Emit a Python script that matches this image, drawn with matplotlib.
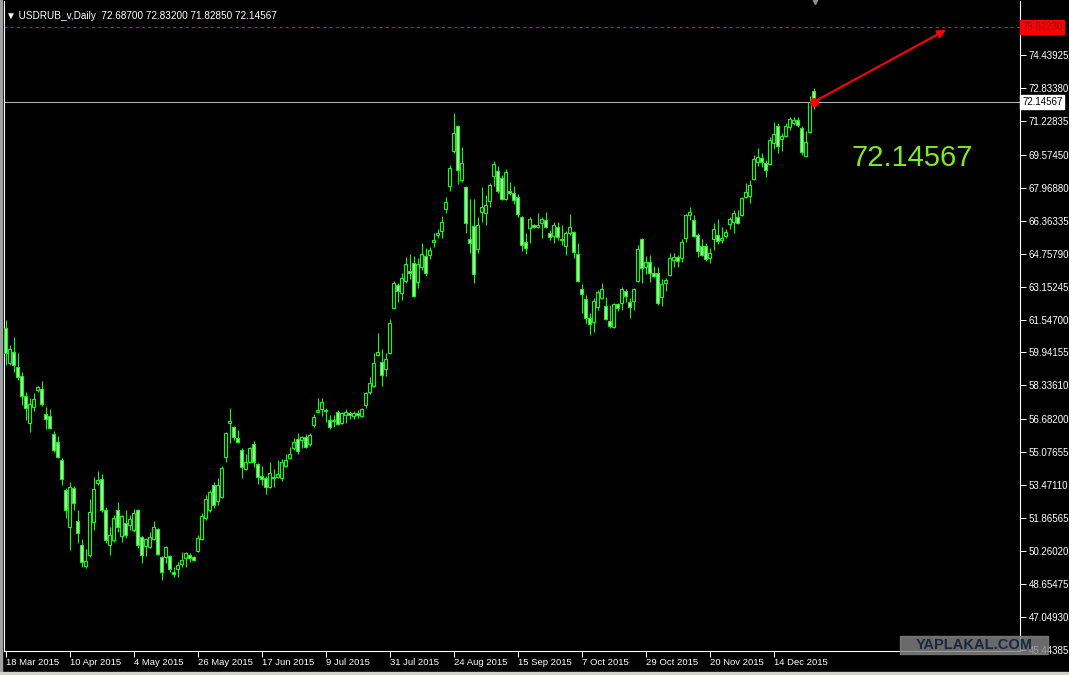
import matplotlib
matplotlib.use("Agg")
import matplotlib.pyplot as plt
from matplotlib.patches import Rectangle
import numpy as np

plt.rcParams['font.family'] = ['Liberation Sans', 'DejaVu Sans']

title = "\u25bc USDRUB_v,Daily  72.68700 72.83200 71.82850 72.14567"

# daily bars, 18 Mar 2015 .. end of Dec 2015
opens = [
    61.14, 59.43, 59.96, 59.24, 58.80, 57.82, 56.50, 57.29, 58.11, 58.16,
    56.95, 56.85, 55.97, 55.58, 54.70, 53.24, 51.44, 53.34, 51.73, 50.56,
    49.54, 50.08, 51.68, 53.58, 53.77, 52.27, 50.56, 50.80, 52.27, 51.00,
    51.63, 51.54, 51.29, 52.27, 50.95, 50.51, 50.46, 50.85, 51.34, 49.98,
    49.98, 50.03, 49.24, 49.39, 49.64, 49.93, 50.08, 49.98, 50.27, 50.85,
    51.88, 52.27, 53.49, 52.70, 52.90, 54.85, 56.50, 56.31, 55.77, 55.19,
    54.26, 54.60, 55.48, 54.51, 53.92, 53.82, 53.39, 53.87, 53.87, 53.82,
    54.41, 54.80, 55.29, 55.73, 55.68, 55.82, 55.48, 56.40, 57.04, 57.19,
    57.14, 56.65, 56.60, 57.04, 56.50, 56.90, 56.99, 56.85, 56.99, 56.85,
    57.39, 58.01, 58.31, 59.82, 59.48, 59.14, 59.91, 62.11, 63.23, 62.84,
    63.43, 63.92, 64.31, 63.38, 64.11, 64.65, 64.70, 65.33, 65.67, 65.86,
    66.94, 68.06, 69.76, 70.98, 68.35, 68.01, 65.47, 66.11, 64.99, 66.79,
    66.74, 67.32, 68.54, 68.79, 68.45, 67.42, 67.81, 67.71, 67.52, 66.55,
    65.33, 66.01, 66.16, 66.06, 66.25, 66.40, 65.77, 65.62, 66.06, 65.47,
    65.13, 65.77, 65.81, 64.74, 63.04, 62.55, 61.63, 61.43, 62.16, 62.60,
    62.21, 61.48, 61.19, 62.30, 62.35, 62.94, 62.40, 62.45, 63.43, 65.47,
    64.11, 64.35, 63.82, 63.82, 62.65, 63.33, 63.72, 64.45, 64.60, 64.55,
    65.52, 66.64, 66.40, 65.67, 65.13, 65.13, 64.55, 65.47, 65.67, 65.42,
    65.62, 66.20, 66.30, 66.55, 66.64, 67.52, 67.57, 68.40, 69.23, 69.42,
    69.18, 69.13, 70.15, 70.98, 70.35, 70.49, 70.93, 71.13, 71.27, 70.88,
    69.52, 70.69, 72.687,
]
highs = [
    61.53, 60.31, 60.70, 59.91, 58.99, 58.01, 57.72, 57.96, 58.31, 58.55,
    57.29, 57.19, 56.11, 55.87, 54.80, 53.34, 53.63, 53.44, 52.27, 50.85,
    50.37, 52.80, 53.87, 54.16, 54.02, 52.41, 51.44, 52.03, 52.65, 52.03,
    52.27, 52.03, 52.31, 52.31, 51.00, 50.90, 51.19, 51.73, 51.39, 50.03,
    50.51, 50.08, 49.49, 49.73, 50.22, 50.22, 50.17, 50.03, 51.05, 52.12,
    53.00, 53.24, 53.63, 53.82, 54.41, 56.06, 57.24, 56.36, 56.16, 55.29,
    55.00, 55.34, 55.63, 54.55, 54.41, 53.92, 54.60, 54.26, 54.70, 54.75,
    55.00, 55.34, 55.77, 56.01, 55.87, 55.97, 56.01, 56.95, 57.72, 57.72,
    57.24, 56.90, 56.90, 57.14, 57.04, 57.19, 57.09, 57.09, 57.14, 57.24,
    58.01, 58.75, 59.91, 60.89, 60.11, 59.91, 61.58, 63.43, 63.33, 63.82,
    64.60, 64.74, 64.65, 64.55, 65.28, 65.04, 65.09, 65.77, 65.96, 66.60,
    67.52, 69.08, 71.61, 71.03, 69.96, 68.06, 67.42, 67.42, 66.55, 68.01,
    67.62, 68.20, 69.27, 69.03, 68.59, 68.88, 68.25, 68.06, 67.67, 66.60,
    65.77, 66.55, 66.20, 66.74, 66.55, 66.79, 65.91, 66.30, 66.30, 66.16,
    65.86, 66.69, 65.86, 65.28, 63.28, 62.74, 61.87, 62.60, 62.99, 63.33,
    62.65, 62.26, 62.35, 62.35, 63.13, 63.04, 62.60, 63.08, 65.18, 65.52,
    64.65, 64.70, 64.16, 64.11, 63.52, 63.57, 64.79, 64.79, 64.70, 65.47,
    66.69, 67.03, 66.64, 65.77, 65.47, 65.28, 65.04, 66.25, 66.45, 66.06,
    65.96, 66.55, 66.89, 66.89, 67.52, 68.20, 68.35, 69.57, 69.91, 69.66,
    69.32, 70.44, 71.17, 71.13, 70.64, 71.13, 71.42, 71.42, 71.42, 70.98,
    70.74, 72.44, 72.832,
]
lows = [
    59.34, 59.34, 58.99, 58.60, 57.39, 56.65, 56.06, 57.09, 58.01, 57.34,
    56.21, 56.21, 55.09, 54.80, 53.49, 51.88, 50.32, 52.27, 50.65, 49.49,
    49.44, 49.98, 51.29, 53.49, 52.17, 50.65, 50.08, 50.70, 51.19, 50.70,
    50.90, 51.29, 51.19, 50.41, 49.68, 50.03, 50.41, 50.80, 50.08, 48.85,
    49.68, 49.24, 49.00, 49.00, 49.49, 49.49, 49.73, 49.78, 50.22, 50.80,
    51.78, 52.17, 52.36, 52.51, 52.85, 54.60, 55.53, 55.68, 55.53, 53.83,
    54.21, 54.55, 54.36, 53.54, 53.49, 53.05, 53.34, 53.39, 53.82, 53.68,
    54.36, 54.75, 55.19, 55.00, 55.29, 55.29, 55.39, 56.31, 56.99, 56.85,
    56.55, 56.21, 56.31, 56.40, 56.45, 56.50, 56.70, 56.70, 56.75, 56.80,
    57.24, 57.92, 58.26, 59.77, 58.31, 58.80, 59.87, 62.06, 62.40, 62.50,
    63.33, 63.52, 62.65, 63.08, 63.96, 63.67, 64.50, 65.09, 65.52, 65.52,
    66.74, 67.81, 69.66, 68.15, 68.25, 65.77, 64.79, 63.33, 64.79, 66.30,
    66.16, 67.03, 68.06, 67.71, 67.37, 67.37, 67.62, 67.18, 66.55, 64.89,
    64.74, 65.28, 66.01, 66.01, 65.52, 66.01, 65.42, 65.28, 65.42, 65.18,
    64.70, 65.67, 64.55, 63.38, 61.87, 61.38, 60.79, 60.94, 62.01, 62.55,
    61.53, 61.14, 61.14, 61.96, 62.01, 62.40, 61.63, 62.01, 63.38, 63.33,
    63.77, 63.38, 63.62, 62.26, 62.21, 62.94, 63.67, 64.11, 64.11, 64.35,
    65.33, 66.40, 65.57, 64.60, 64.65, 64.40, 64.31, 64.94, 65.23, 65.28,
    65.52, 65.96, 65.77, 66.20, 66.60, 67.47, 67.23, 68.35, 69.03, 68.98,
    68.49, 69.08, 69.86, 69.66, 69.76, 70.44, 70.79, 71.03, 70.93, 69.57,
    69.47, 70.64, 71.8285,
]
closes = [
    59.91, 60.11, 59.34, 58.75, 57.82, 57.24, 57.44, 57.67, 58.26, 57.44,
    56.70, 56.26, 55.19, 54.85, 53.77, 52.27, 53.39, 52.60, 51.14, 49.73,
    49.78, 52.17, 53.29, 53.73, 52.27, 50.80, 51.05, 51.88, 51.44, 51.98,
    51.05, 51.83, 52.12, 50.56, 50.08, 50.85, 50.95, 51.44, 50.13, 49.24,
    50.46, 49.39, 49.15, 49.59, 49.83, 50.17, 49.93, 49.83, 50.90, 51.98,
    52.80, 53.14, 52.51, 53.49, 54.31, 56.01, 56.60, 55.82, 55.58, 54.36,
    54.60, 55.29, 54.60, 53.87, 53.77, 53.39, 54.07, 53.82, 54.02, 54.60,
    54.70, 55.00, 55.58, 55.14, 55.82, 55.34, 55.92, 56.80, 57.14, 57.53,
    57.09, 56.31, 56.65, 56.45, 56.99, 57.04, 56.90, 56.99, 56.90, 57.19,
    57.96, 58.45, 59.43, 59.96, 58.84, 59.63, 61.38, 63.33, 62.94, 63.57,
    64.26, 63.82, 62.70, 64.26, 64.74, 63.82, 64.94, 65.42, 65.77, 66.30,
    67.28, 68.93, 70.64, 68.84, 69.18, 66.25, 65.28, 63.77, 66.16, 67.03,
    67.13, 68.11, 69.13, 67.81, 67.42, 68.74, 67.71, 67.37, 66.69, 65.18,
    65.04, 66.45, 66.06, 66.16, 66.45, 66.06, 65.57, 66.16, 65.57, 65.42,
    65.77, 66.06, 64.84, 63.43, 62.79, 61.63, 61.33, 62.45, 62.89, 63.04,
    61.58, 61.23, 62.30, 62.11, 63.04, 62.70, 62.16, 63.04, 64.99, 64.06,
    64.35, 63.82, 63.67, 62.35, 63.28, 63.47, 64.55, 64.60, 64.40, 65.33,
    66.64, 66.79, 65.62, 64.89, 64.70, 64.50, 64.79, 65.96, 65.38, 65.52,
    65.81, 66.45, 66.74, 66.25, 67.47, 67.76, 68.11, 69.37, 69.47, 69.23,
    68.84, 70.30, 70.59, 70.01, 70.49, 70.98, 71.32, 71.27, 71.03, 69.71,
    70.20, 72.15, 72.14567,
]

date_labels = ["18 Mar 2015", "10 Apr 2015", "4 May 2015", "26 May 2015", "17 Jun 2015",
               "9 Jul 2015", "31 Jul 2015", "24 Aug 2015", "15 Sep 2015", "7 Oct 2015",
               "29 Oct 2015", "20 Nov 2015", "14 Dec 2015"]
bars_per_label = 16

price_ticks = [74.43925, 72.83380, 71.22835, 69.57450, 67.96880, 66.36335, 64.75790,
               63.15245, 61.54700, 59.94155, 58.33610, 56.68200, 55.07655, 53.47110,
               51.86565, 50.26020, 48.65475, 47.04930, 45.44385]

last_price = 72.14567
target_price = 75.82230
arrow_end_bar = 235.1
arrow_end_price = 75.66

W, H = 1069, 675
BG = 'black'
EDGE = '#1ef01e'
BEAR_FILL = '#b4ffb4'

fig = plt.figure(figsize=(W / 100, H / 100), dpi=100, facecolor=BG)
ax = fig.add_axes([4 / W, 24 / H, 1016 / W, 650 / H], facecolor=BG)

n = len(closes)
x = np.arange(n)
o = np.array(opens)
c = np.array(closes)

# wicks then bodies
ax.vlines(x, lows, highs, color=EDGE, linewidth=0.8, zorder=2)
bull = c >= o
body_lo = np.minimum(o, c)
body_h = np.abs(c - o)
ax.bar(x[bull], body_h[bull], bottom=body_lo[bull], width=0.55, color=BG,
       edgecolor=EDGE, linewidth=0.85, zorder=3)
ax.bar(x[~bull], body_h[~bull], bottom=body_lo[~bull], width=0.55, color=BEAR_FILL,
       edgecolor=EDGE, linewidth=0.85, zorder=3)

# scale: 20.52 px per rouble, 4 px per bar
px_per_unit = 20.52
ax.set_xlim(-0.375, 253.625)
ax.set_ylim(74.43925 - 596 / px_per_unit, 74.43925 + 54 / px_per_unit)

ax.axhline(target_price, color='#ff0000', linewidth=0.75, linestyle=(0, (3, 3)), zorder=1)
ax.axhline(last_price, color='#b4b4b4', linewidth=0.75, zorder=1)

for side in ['left', 'right', 'bottom']:
    ax.spines[side].set_color('white')
    ax.spines[side].set_linewidth(0.8)
ax.spines['top'].set_visible(False)

ax.yaxis.tick_right()
ax.set_yticks(price_ticks)
ax.set_yticklabels([f"{v:.5f}" for v in price_ticks])
ax.tick_params(axis='y', colors='white', length=4, width=0.7, labelsize=7, pad=2)

ax.set_xticks([k * bars_per_label for k in range(len(date_labels))])
ax.set_xticklabels(date_labels)
ax.tick_params(axis='x', colors='white', length=4, width=0.7, labelsize=6.8, pad=1)
for lbl in ax.get_xticklabels():
    lbl.set_ha('left')

ytr = ax.get_yaxis_transform()
ax.text(1.002, target_price, f"{target_price:.5f}", transform=ytr, ha='left', va='center',
        fontsize=7, color='#8b0000', zorder=6, clip_on=False,
        bbox=dict(boxstyle='square,pad=0.2', fc='#ff0000', ec='#ff0000'))
ax.text(1.002, last_price, f"{last_price:.5f}", transform=ytr, ha='left', va='center',
        fontsize=7, color='black', zorder=6, clip_on=False,
        bbox=dict(boxstyle='square,pad=0.2', fc='white', ec='white'))

# title
ax.text(0.002, 0.985, title, transform=ax.transAxes, ha='left', va='top',
        fontsize=7.2, color='white')

# annotation
ax.annotate('', xy=(arrow_end_bar, arrow_end_price), xytext=(n - 1, last_price),
            arrowprops=dict(arrowstyle='-|>', color='#ff0000', lw=1.5, mutation_scale=12,
                            shrinkA=0, shrinkB=0), zorder=5)
ax.plot(n - 1, last_price, 'o', color='#ff0000', markersize=5.5, zorder=5)
ax.text(211.4, 69.42, f"{last_price:.5f}", ha='left', va='center', fontsize=21,
        color='#7fea22', zorder=5)

# chart shift marker
ax.plot(202.4, ax.get_ylim()[1], marker='v', color='#909090', markersize=5,
        clip_on=False, zorder=6)

# window border bits and watermark
fig.patches.append(Rectangle((0, 0), 2 / W, 1, transform=fig.transFigure, color='#a0a0a0'))
fig.patches.append(Rectangle((0, 0), 1, 3 / H, transform=fig.transFigure, color='#d4d0c8'))
fig.patches.append(Rectangle((900 / W, 21 / H), 148 / W, 18 / H, transform=fig.transFigure,
                             color='#858585', alpha=0.8, zorder=10))
fig.text(974 / W, 30 / H, "YAPLAKAL.COM", ha='center', va='center', fontsize=10.5,
         fontweight='bold', color='#18283e', zorder=11)

fig.savefig('out.png', dpi=100, facecolor=BG)
